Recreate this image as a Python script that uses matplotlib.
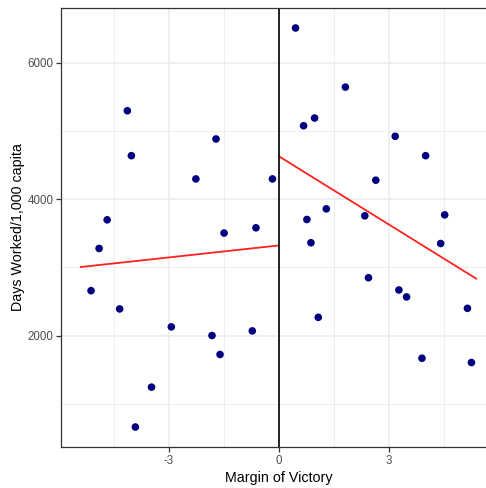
import matplotlib
matplotlib.use("Agg")
import matplotlib.pyplot as plt
from matplotlib.ticker import MultipleLocator, FixedLocator

plt.rcParams['font.family'] = ['Liberation Sans', 'DejaVu Sans']
plt.rcParams['axes.unicode_minus'] = False

left_margin = [-4.13, -4.02, -1.71, -2.26, -0.17, -4.68, -0.62, -1.49, -4.90,
               -5.12, -4.34, -2.93, -1.82, -0.72, -1.60, -3.47, -3.91]
left_days = [5298, 4639, 4884, 4298, 4298, 3698, 3581, 3504, 3278,
             2659, 2391, 2128, 2001, 2069, 1723, 1244, 659]

right_margin = [0.46, 1.82, 0.68, 0.98, 3.18, 4.01, 2.65, 1.30, 0.77, 2.35,
                4.53, 0.88, 4.42, 2.45, 3.28, 3.49, 1.08, 5.15, 3.91, 5.26]
right_days = [6512, 5645, 5078, 5191, 4923, 4639, 4279, 3859, 3703, 3757,
              3771, 3362, 3351, 2849, 2669, 2567, 2268, 2400, 1668, 1605]

# fitted lines on each side of the cutoff (endpoints)
fit_left_x = [-5.40, 0.0]
fit_left_y = [3006, 3322]
fit_right_x = [0.0, 5.39]
fit_right_y = [4632, 2835]

fig = plt.figure(figsize=(4.86, 4.88), dpi=100)
ax = fig.add_axes([61 / 486, 41 / 488, 435 / 486, 439 / 488])

ax.scatter(left_margin + right_margin, left_days + right_days,
           s=30, color='#00007f', edgecolors='none', zorder=3)
ax.plot(fit_left_x, fit_left_y, color='#ff2020', lw=1.3, zorder=4)
ax.plot(fit_right_x, fit_right_y, color='#ff2020', lw=1.3, zorder=4)
ax.axvline(0, color='#222222', lw=1.4, zorder=5)

ax.set_xlim(-5.94, 5.93)
ax.set_ylim(366, 6805)

ax.xaxis.set_major_locator(FixedLocator([-3, 0, 3]))
ax.xaxis.set_minor_locator(FixedLocator([-4.5, -1.5, 1.5, 4.5]))
ax.yaxis.set_major_locator(MultipleLocator(2000))
ax.yaxis.set_minor_locator(MultipleLocator(1000))

ax.grid(which='major', color='#ebebeb', lw=1.1, zorder=0)
ax.grid(which='minor', color='#ebebeb', lw=0.6, zorder=0)
ax.set_axisbelow(True)

for s in ax.spines.values():
    s.set_color('#333333')
    s.set_linewidth(0.9)

ax.tick_params(which='major', length=3.5, width=0.9, color='#333333',
               labelcolor='#4d4d4d', labelsize=8.3, pad=2)
ax.tick_params(which='minor', length=0)

ax.set_xlabel('Margin of Victory', fontsize=10.3, color='black', labelpad=3)
ax.set_ylabel('Days Worked/1,000 capita', fontsize=10.3, color='black')
ax.yaxis.set_label_coords((25 - 61) / 435, 0.5)

fig.savefig('out.png', dpi=100)
